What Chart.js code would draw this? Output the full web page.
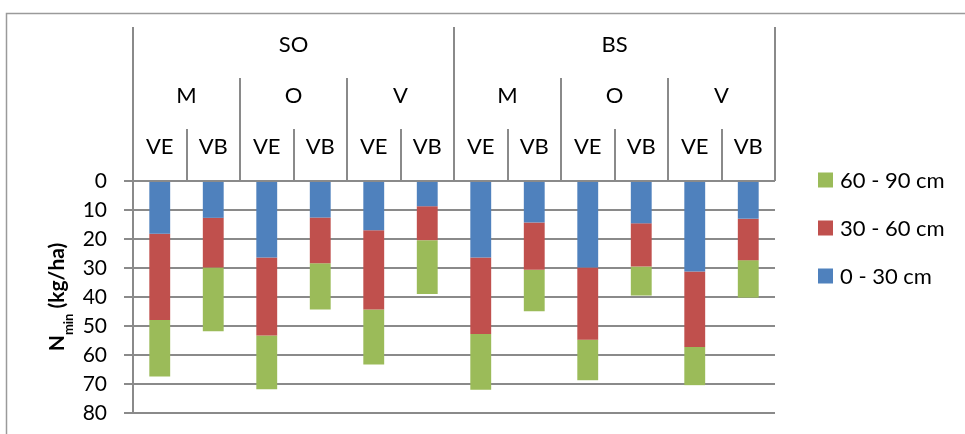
<!DOCTYPE html>
<html>
<head>
<meta charset="utf-8">
<title>Nmin nach Tiefe</title>
<script src="https://cdn.jsdelivr.net/npm/chart.js@4"></script>
<style>
  html, body { margin: 0; padding: 0; background: #fff; }
  canvas { display: block; }
</style>
</head>
<body>
<canvas id="c" width="965" height="434"></canvas>
<script>
// Category hierarchy (outer → inner)
const sites = ['SO', 'BS'];
const crops = ['M', 'O', 'V'];
const variants = ['VE', 'VB'];

// One bar per site × crop × variant
const categories = sites.flatMap(s => crops.flatMap(c => variants.map(v => s + ' ' + c + ' ' + v)));

// Nmin (kg/ha) per soil layer
const depthLabels = ['0 - 30 cm', '30 - 60 cm', '60 - 90 cm'];
const layer0to30  = [18.2, 12.7, 26.4, 12.6, 17.0, 8.7, 26.4, 14.3, 29.8, 14.6, 31.2, 13.0];
const layer30to60 = [29.7, 17.1, 26.9, 15.8, 27.3, 11.7, 26.4, 16.3, 24.9, 14.9, 26.0, 14.3];
const layer60to90 = [19.5, 22.0, 18.5, 15.9, 19.0, 18.6, 19.2, 14.3, 14.0, 10.0, 13.2, 12.9];

const colors = ['#4F81BD', '#C0504D', '#9BBB59'];
const lineGray = '#8A8A8A';
const FONT = 'Lato, "Open Sans", sans-serif';

Chart.defaults.color = '#000';
Chart.defaults.font.family = FONT;

// Frame around the figure
const framePlugin = {
  id: 'frame',
  beforeDraw(chart) {
    const ctx = chart.ctx;
    ctx.save();
    ctx.fillStyle = '#fff';
    ctx.fillRect(0, 0, chart.width, chart.height);
    ctx.strokeStyle = '#9A9A9A';
    ctx.lineWidth = 1.5;
    ctx.beginPath();
    ctx.moveTo(6.5, chart.height + 5);
    ctx.lineTo(6.5, 13.5);
    ctx.lineTo(chart.width + 5, 13.5);
    ctx.stroke();
    ctx.restore();
  }
};

// Multi-level category header above the plot
const headerPlugin = {
  id: 'header',
  afterDraw(chart) {
    const ctx = chart.ctx;
    const x = chart.scales.x;
    const top = chart.chartArea.top;
    const n = categories.length;
    const w = (x.right - x.left) / n;
    const rowTops = [27, 78, 129];
    const levels = [
      { labels: sites, span: crops.length * variants.length },
      { labels: sites.flatMap(() => crops), span: variants.length },
      { labels: sites.flatMap(() => crops.flatMap(() => variants)), span: 1 }
    ];
    ctx.save();
    ctx.strokeStyle = lineGray;
    ctx.lineWidth = 2;
    ctx.fillStyle = '#000';
    ctx.font = '22px ' + FONT;
    ctx.textAlign = 'center';
    ctx.textBaseline = 'alphabetic';
    levels.forEach((lvl, li) => {
      const y0 = rowTops[li];
      lvl.labels.forEach((lab, i) => {
        const left = x.left + i * lvl.span * w;
        const right = left + lvl.span * w;
        ctx.beginPath();
        ctx.moveTo(Math.round(left), y0);
        ctx.lineTo(Math.round(left), top);
        ctx.moveTo(Math.round(right), y0);
        ctx.lineTo(Math.round(right), top);
        ctx.stroke();
        ctx.fillText(lab, (left + right) / 2, y0 + 25);
      });
    });
    ctx.restore();
  }
};

// Legend on the right, deepest layer first
const legendPlugin = {
  id: 'sideLegend',
  afterDraw(chart) {
    const ctx = chart.ctx;
    const ds = chart.data.datasets.slice().reverse();
    ctx.save();
    ctx.font = '22px ' + FONT;
    ctx.textAlign = 'left';
    ctx.textBaseline = 'alphabetic';
    ds.forEach((d, i) => {
      const cy = 180 + i * 48;
      ctx.fillStyle = d.backgroundColor;
      ctx.fillRect(818, cy - 7.5, 15, 15);
      ctx.fillStyle = '#000';
      ctx.fillText(d.label, 840, cy + 8);
    });
    ctx.restore();
  }
};

// Rotated y-axis title with subscript
const yTitlePlugin = {
  id: 'yTitle',
  afterDraw(chart) {
    const ctx = chart.ctx;
    const main = 'bold 21px ' + FONT;
    const sub = 'bold 13px ' + FONT;
    ctx.save();
    ctx.font = main;
    const wN = ctx.measureText('N').width;
    const wRest = ctx.measureText(' (kg/ha)').width;
    ctx.font = sub;
    const wSub = ctx.measureText('min').width;
    const total = wN + wSub + wRest;
    const cy = 297;
    ctx.translate(64, cy + total / 2);
    ctx.rotate(-Math.PI / 2);
    ctx.fillStyle = '#000';
    ctx.textAlign = 'left';
    ctx.textBaseline = 'alphabetic';
    ctx.font = main;
    ctx.fillText('N', 0, 0);
    ctx.font = sub;
    ctx.fillText('min', wN, 9);
    ctx.font = main;
    ctx.fillText(' (kg/ha)', wN + wSub, 0);
    ctx.restore();
  }
};

// Keep the plot box fixed: no extra room reserved for edge tick labels
function noEdgePadding(scale) {
  scale.paddingTop = 0;
  scale.paddingBottom = 0;
  scale.paddingLeft = 0;
  scale.paddingRight = 0;
}

new Chart(document.getElementById('c'), {
  type: 'bar',
  data: {
    labels: categories,
    datasets: [
      { label: depthLabels[0], data: layer0to30,  backgroundColor: colors[0] },
      { label: depthLabels[1], data: layer30to60, backgroundColor: colors[1] },
      { label: depthLabels[2], data: layer60to90, backgroundColor: colors[2] }
    ]
  },
  options: {
    responsive: false,
    animation: false,
    devicePixelRatio: 1,
    layout: { padding: { left: 0, top: 181, right: 190, bottom: 21 } },
    datasets: { bar: { barPercentage: 0.39, categoryPercentage: 1.0, borderWidth: 0 } },
    plugins: {
      legend: { display: false },
      tooltip: { enabled: false },
      title: { display: false }
    },
    scales: {
      x: {
        stacked: true,
        display: false,
        afterFit: noEdgePadding
      },
      y: {
        stacked: true,
        reverse: true,
        min: 0,
        max: 80,
        afterFit(scale) { scale.width = 133; noEdgePadding(scale); },
        ticks: {
          stepSize: 10,
          padding: 17,
          color: '#000',
          font: { size: 21, family: FONT }
        },
        grid: {
          color: lineGray,
          lineWidth: 2,
          tickLength: 9,
          drawTicks: true
        },
        border: { display: true, color: lineGray, width: 2 }
      }
    }
  },
  plugins: [framePlugin, headerPlugin, legendPlugin, yTitlePlugin]
});
</script>
</body>
</html>
